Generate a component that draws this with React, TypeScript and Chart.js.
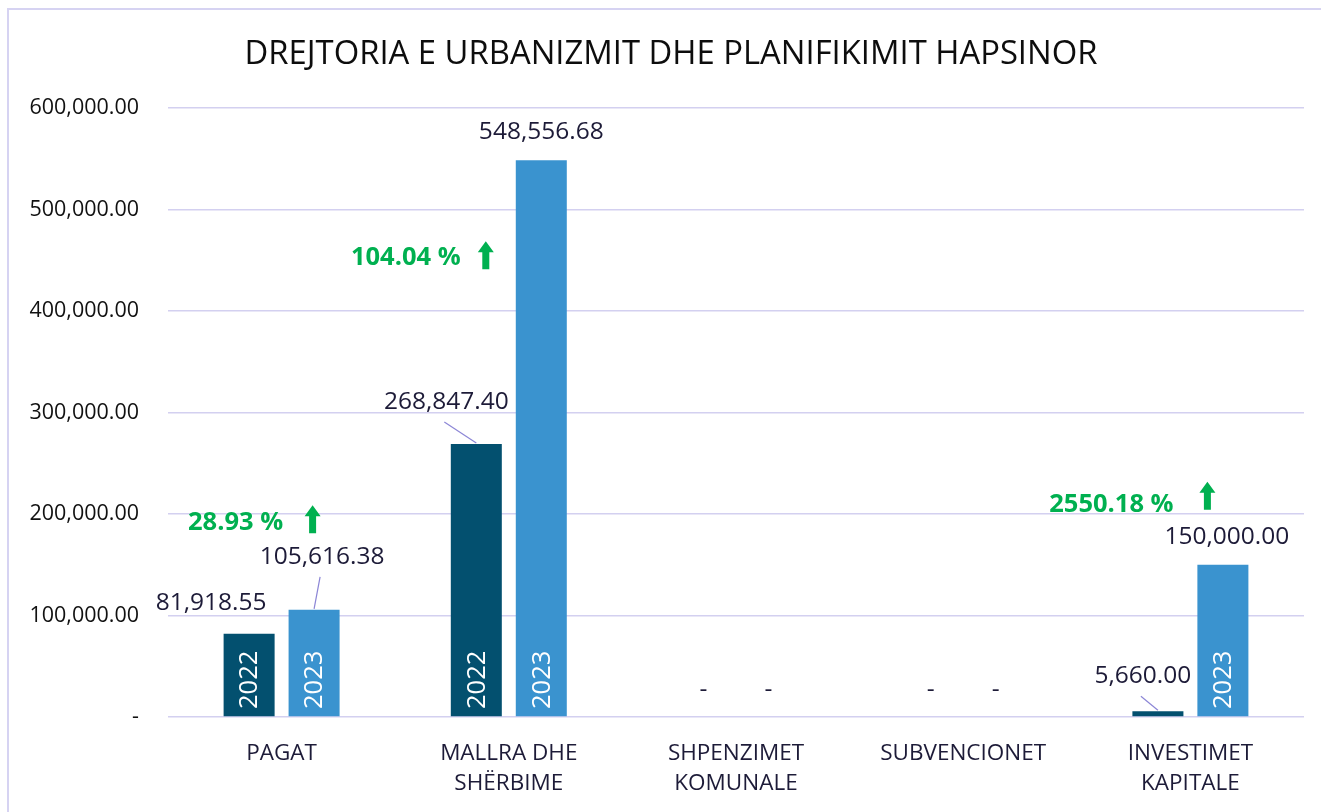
import React, { useEffect, useRef } from "react";
import { Chart, registerables } from "chart.js";

Chart.register(...registerables);

// ---------- DATA ----------
const titleText = "DREJTORIA E URBANIZMIT DHE PLANIFIKIMIT HAPSINOR";
const categories: string[][] = [
  ["PAGAT"],
  ["MALLRA DHE", "SHËRBIME"],
  ["SHPENZIMET", "KOMUNALE"],
  ["SUBVENCIONET"],
  ["INVESTIMET", "KAPITALE"],
];
const years = ["2022", "2023"];
const values2022 = [81918.55, 268847.4, 0, 0, 5660.0];
const values2023 = [105616.38, 548556.68, 0, 0, 150000.0];
const growthLabels = ["28.93 %", "104.04 %", "", "", "2550.18 %"];
const yMax = 600000;
const yStep = 100000;

// ---------- STYLE / LAYOUT ----------
const FONT = "'Open Sans', 'Noto Sans', sans-serif";
const colors = ["#03506f", "#3a93cf"];
const textDark = "#1d1b38";
const green = "#00b050";
const gridColor = "#d3d0f0";
const leaderColor = "#8c86d6";

// label offsets relative to bar top centre: [datasetIndex][categoryIndex]
const labelOffsets = [
  [
    { dx: -38, dy: -31, leader: false },
    { dx: -30, dy: -42, leader: true },
    { dx: 0, dy: -27, leader: false },
    { dx: 0, dy: -27, leader: false },
    { dx: -15, dy: -35, leader: true },
  ],
  [
    { dx: 8, dy: -53, leader: true },
    { dx: 0, dy: -28, leader: false },
    { dx: 0, dy: -27, leader: false },
    { dx: 0, dy: -27, leader: false },
    { dx: 4, dy: -28, leader: false },
  ],
];
// growth annotation anchors (value-space y, pixel offsets from category centre)
const growthAnchors = [
  { yValue: 191000, textDx: -46, arrowDx: 31, arrowDy: -4 },
  { yValue: 452000, textDx: -103, arrowDx: -23, arrowDy: -3 },
  null,
  null,
  { yValue: 209000, textDx: -79, arrowDx: 17, arrowDy: -9 },
];

const fmt = (v: number) =>
  v.toLocaleString("en-US", { minimumFractionDigits: 2, maximumFractionDigits: 2 });

const annotPlugin = {
  id: "annot",
  afterDatasetsDraw(chart: any) {
    const ctx = chart.ctx as CanvasRenderingContext2D;
    const xScale = chart.scales.x;
    const yScale = chart.scales.y;
    const zeroY = yScale.getPixelForValue(0);

    // title
    ctx.save();
    ctx.fillStyle = "#0d0d0d";
    ctx.font = `32.8px ${FONT}`;
    ctx.textAlign = "center";
    ctx.textBaseline = "middle";
    ctx.fillText(titleText, 671, 55);
    ctx.restore();

    chart.data.datasets.forEach((ds: any, di: number) => {
      const meta = chart.getDatasetMeta(di);
      meta.data.forEach((bar: any, i: number) => {
        const v = ds.data[i];
        const off = labelOffsets[di][i];
        const bx = bar.x;
        const top = bar.y;
        const lx = bx + off.dx;
        const ly = top + off.dy;
        ctx.save();
        // value label
        ctx.fillStyle = textDark;
        ctx.font = `24.5px ${FONT}`;
        ctx.textAlign = "center";
        ctx.textBaseline = "middle";
        ctx.fillText(v === 0 ? "-" : fmt(v), lx, ly);
        if (off.leader && v > 0) {
          ctx.strokeStyle = leaderColor;
          ctx.lineWidth = 1.2;
          ctx.beginPath();
          ctx.moveTo(bx, top - 1);
          ctx.lineTo(lx - 2, ly + 20);
          ctx.stroke();
        }
        // year inside bar
        const h = zeroY - top;
        if (v > 0 && h > 62) {
          ctx.translate(bx, zeroY - 8);
          ctx.rotate(-Math.PI / 2);
          ctx.fillStyle = "#ffffff";
          ctx.font = `25.5px ${FONT}`;
          ctx.textAlign = "left";
          ctx.textBaseline = "middle";
          ctx.fillText(years[di], 0, 1);
        }
        ctx.restore();
      });
    });

    // growth annotations
    growthAnchors.forEach((a, i) => {
      if (!a || !growthLabels[i]) return;
      const cx = xScale.getPixelForValue(i);
      const y = yScale.getPixelForValue(a.yValue);
      ctx.save();
      ctx.fillStyle = green;
      ctx.font = `bold 25.5px ${FONT}`;
      ctx.textAlign = "center";
      ctx.textBaseline = "middle";
      ctx.fillText(growthLabels[i], cx + a.textDx, y);
      // arrow
      const ax = cx + a.arrowDx;
      const ay = y + a.arrowDy;
      const topY = ay - 14;
      const botY = ay + 14;
      const headH = 11;
      const headW = 8;
      const shaftW = 3.5;
      ctx.beginPath();
      ctx.moveTo(ax, topY);
      ctx.lineTo(ax + headW, topY + headH);
      ctx.lineTo(ax + shaftW, topY + headH);
      ctx.lineTo(ax + shaftW, botY);
      ctx.lineTo(ax - shaftW, botY);
      ctx.lineTo(ax - shaftW, topY + headH);
      ctx.lineTo(ax - headW, topY + headH);
      ctx.closePath();
      ctx.fill();
      ctx.restore();
    });
  },
};

export default function App() {
  const ref = useRef<HTMLCanvasElement | null>(null);
  useEffect(() => {
    if (!ref.current) return;
    const chart = new Chart(ref.current, {
      type: "bar",
      data: {
        labels: categories,
        datasets: [
          {
            label: years[0],
            data: values2022,
            backgroundColor: colors[0],
            categoryPercentage: 0.572,
            barPercentage: 0.785,
          },
          {
            label: years[1],
            data: values2023,
            backgroundColor: colors[1],
            categoryPercentage: 0.572,
            barPercentage: 0.785,
          },
        ],
      },
      options: {
        responsive: false,
        animation: false,
        devicePixelRatio: 1,
        layout: { padding: { left: 0, right: 17, top: 108, bottom: 0 } },
        plugins: {
          legend: { display: false },
          title: { display: false },
          tooltip: { enabled: false },
        },
        scales: {
          x: {
            grid: { display: false, drawTicks: false },
            border: { display: false },
            ticks: {
              color: textDark,
              font: { family: FONT, size: 22.5, lineHeight: 1.35 },
              padding: 21,
              maxRotation: 0,
              autoSkip: false,
            },
            afterFit: (s: any) => {
              s.height = 95;
            },
          },
          y: {
            min: 0,
            max: yMax,
            grid: { color: gridColor, lineWidth: 1.5, drawTicks: false },
            border: { display: false },
            ticks: {
              stepSize: yStep,
              color: "#111111",
              font: { family: FONT, size: 21.5 },
              padding: 29,
              callback: (v: any) => (Number(v) === 0 ? "-" : fmt(Number(v))),
            },
            afterFit: (s: any) => {
              s.width = 168;
            },
          },
        },
      },
      plugins: [annotPlugin],
    });
    return () => chart.destroy();
  }, []);

  return (
    <div style={{ position: "fixed", left: 0, top: 0, width: 1321, height: 812, overflow: "hidden", background: "#fff" }}>
      <div
        style={{
          position: "absolute",
          left: 7,
          top: 8,
          width: 1400,
          height: 900,
          border: "2px solid #d6d3f2",
        }}
      />
      <canvas ref={ref} width={1321} height={812} style={{ position: "absolute", left: 0, top: 0 }} />
    </div>
  );
}
